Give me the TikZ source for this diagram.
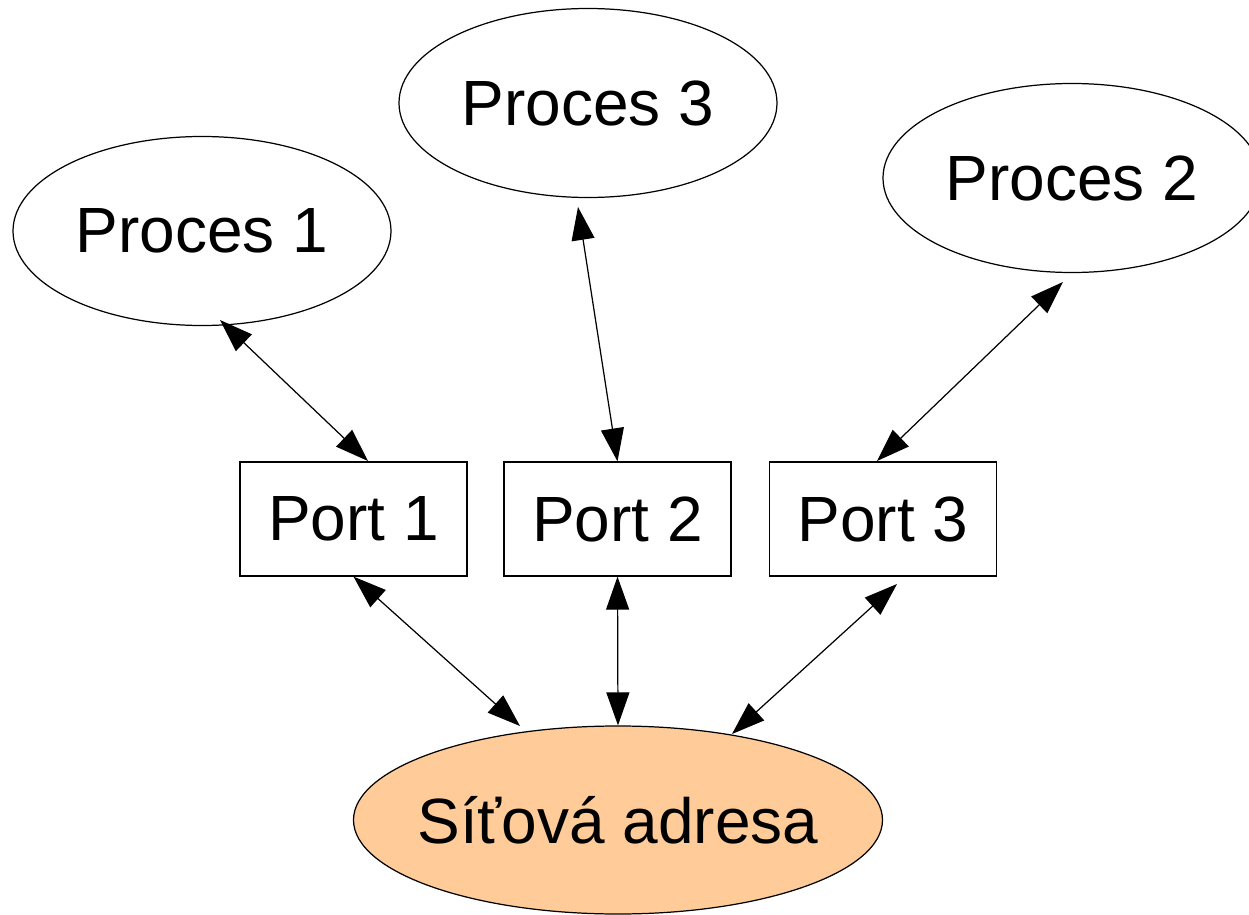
\documentclass[tikz,border=0pt]{standalone}
\usepackage{fontspec}
\setmainfont{Liberation Sans}
\usetikzlibrary{arrows.meta,calc,shapes.geometric}
\definecolor{peach}{HTML}{FFCC99}
\begin{document}
\begin{tikzpicture}[
  every node/.style={font=\fontsize{18.2}{21}\selectfont, inner sep=0pt},
  proc/.style={ellipse, draw, line width=0.35pt, minimum width=3.78cm, minimum height=1.89cm},
  portbox/.style={rectangle, draw, line width=0.35pt, minimum width=2.27cm, minimum height=1.14cm},
  link/.style={line width=0.35pt, {Triangle[length=0.33cm,width=0.23cm]}-{Triangle[length=0.33cm,width=0.23cm]}}
]
\useasboundingbox (0,0) rectangle (12.49,9.14);
\node[proc] (p1) at (2.02,6.83) {Proces 1};
\node[proc] (p3) at (5.88,8.11) {Proces 3};
\node[proc] (p2) at (10.72,7.36) {Proces 2};
\node[portbox] (port1) at (3.535,3.95) {Port 1};
\node[portbox] (port2) at (6.175,3.95) {Port 2};
\node[portbox] (port3) at (8.83,3.95) {Port 3};
\node[proc, fill=peach, inner xsep=-0.4cm, minimum width=5.29cm, minimum height=1.88cm] (sit) at (6.18,0.94) {Síťová adresa};
\draw[link] ($(p1.center)+(0.18,-0.89)$) -- ($(port1.center)+(0.145,0.58)$);
\draw[link] ($(p3.center)+(-0.10,-1.04)$) -- (port2.north);
\draw[link] ($(p2.center)+(-0.09,-1.04)$) -- ($(port3.center)+(-0.06,0.58)$);
\draw[link] (port1.south) -- ($(sit.center)+(-0.98,0.94)$);
\draw[link] (port2.south) -- (sit.north);
\draw[link] ($(port3.center)+(0.14,-0.65)$) -- ($(sit.center)+(1.14,0.86)$);
\end{tikzpicture}
\end{document}
